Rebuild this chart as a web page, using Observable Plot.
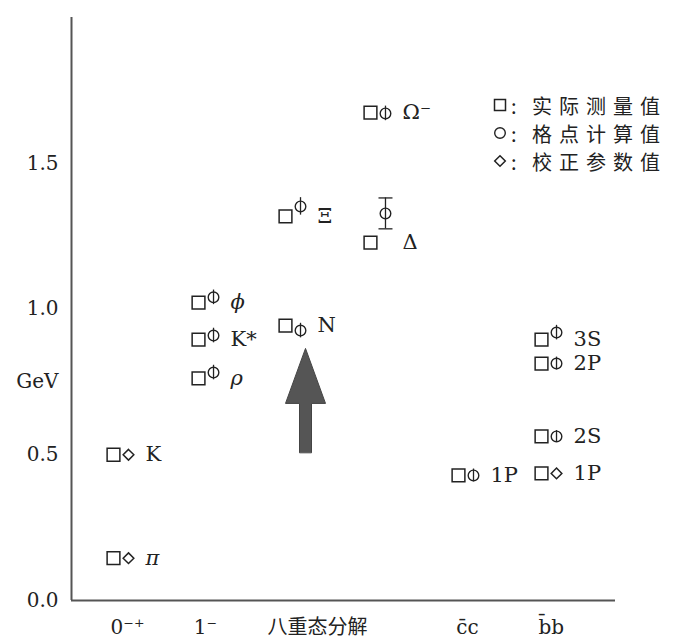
<!DOCTYPE html>
<html>
<head>
<meta charset="utf-8">
<script src="https://cdn.jsdelivr.net/npm/d3@7"></script>
<script src="https://cdn.jsdelivr.net/npm/@observablehq/plot@0.6"></script>
<style>
  html, body { margin: 0; padding: 0; background: #fff; }
  #wrap { position: relative; width: 675px; height: 638px; }
  #legend { position: absolute; left: 492px; top: 91px; font-family: "Noto Sans CJK SC", sans-serif;
            font-size: 20px; color: #222; }
  #legend .row { height: 28px; display: flex; align-items: center; }
  #legend svg { width: 16px; height: 16px; margin-right: 3px; }
  #legend .colon { width: 21px; }
  #legend .txt { letter-spacing: 7px; }
</style>
</head>
<body>
<div id="wrap"><div id="legend"></div></div>
<script>
// Hadron masses and splittings (GeV): measured values vs lattice QCD
const groups = ["0⁻⁺", "1⁻", "八重态分解", "c̄c", "b̄b"];
const names    = ["π", "K", "ρ", "K*", "ϕ", "N", "Ξ", "Δ", "Ω⁻", "1P", "3S", "2P", "2S", "1P"];
const group    = ["0⁻⁺", "0⁻⁺", "1⁻", "1⁻", "1⁻", "八重态分解", "八重态分解", "八重态分解", "八重态分解", "c̄c", "b̄b", "b̄b", "b̄b", "b̄b"];
const column   = [0, 0, 1, 1, 1, 2, 2, 3, 3, 4, 5, 5, 5, 5];
const measured = [0.145, 0.500, 0.762, 0.895, 1.022, 0.943, 1.318, 1.228, 1.674, 0.429, 0.895, 0.813, 0.563, 0.436];
// second value: "calibrated" = input parameter, "lattice" = computed
const kind     = ["calibrated", "calibrated", "lattice", "lattice", "lattice", "lattice", "lattice", "lattice", "lattice", "lattice", "lattice", "lattice", "lattice", "calibrated"];
const computed = [0.145, 0.500, 0.782, 0.909, 1.040, 0.926, 1.352, 1.328, 1.671, 0.429, 0.919, 0.813, 0.563, 0.436];
const errors   = [0, 0, 0.025, 0.025, 0.025, 0.025, 0.03, 0.053, 0.025, 0.022, 0.025, 0.022, 0.02, 0];
const yTicks   = [0, 0.5, 1.0, 1.5];
const unitLabel = "GeV";
const legendItems = [
  {symbol: "square", text: "实际测量值"},
  {symbol: "circle", text: "格点计算值"},
  {symbol: "diamond", text: "校正参数值"}
];

// horizontal layout of the columns and the group labels
const columnX = [0.772, 2.335, 3.934, 5.496, 7.114, 8.640];
const groupX = {"0⁻⁺": 1.03, "1⁻": 2.46, "八重态分解": 4.52, "c̄c": 7.28, "b̄b": 8.82};
const italic = new Set(["π", "ρ", "ϕ"]);

const rows = names.map((name, i) => ({
  name, group: group[i], x: columnX[column[i]], measured: measured[i],
  kind: kind[i], value: computed[i], err: errors[i]
}));
const lat = rows.filter(d => d.kind === "lattice");
const cal = rows.filter(d => d.kind === "calibrated");
const capped = lat.filter(d => d.err > 0.04);

const ink = "#222";
const dxSym = 15;

// thick block arrow pointing up at the nucleon
const blockArrow = {
  draw(context, l) {
    const head = 55, half = 20, shaft = 6;
    context.moveTo(-shaft, 0);
    context.lineTo(-shaft, -(l - head));
    context.lineTo(-half, -(l - head));
    context.lineTo(0, -l);
    context.lineTo(half, -(l - head));
    context.lineTo(shaft, -(l - head));
    context.lineTo(shaft, 0);
    context.closePath();
  }
};
const capSymbol = { draw(context) { context.moveTo(-7, 0); context.lineTo(7, 0); } };
const nucleon = rows.find(d => d.name === "N");
const arrowBase = 0.508;

const chart = Plot.plot({
  width: 675,
  height: 638,
  marginLeft: 71,
  marginRight: 60,
  marginTop: 17,
  marginBottom: 38,
  style: {fontFamily: "'DejaVu Serif', 'Noto Sans CJK SC', serif", color: ink, background: "#fff", overflow: "visible"},
  x: {domain: [0, 10], axis: null},
  y: {domain: [0, 2], axis: null},
  marks: [
    Plot.ruleX([0], {stroke: "#555", strokeWidth: 2}),
    Plot.ruleY([0], {stroke: "#555", strokeWidth: 2}),
    Plot.axisY([...yTicks, 0.75], {
      label: null, tickSize: 0, tickPadding: 13, fontSize: 20,
      tickFormat: d => d === 0.75 ? unitLabel : d3.format(".1f")(d)
    }),
    Plot.axisX(groups.map(g => groupX[g]), {
      label: null, tickSize: 0, tickPadding: 19, fontSize: 20,
      tickFormat: x => groups.find(g => groupX[g] === x)
    }),
    Plot.vector([nucleon], {
      x: "x", y: () => arrowBase, dx: 20, length: 104, anchor: "start",
      shape: blockArrow, fill: "#555", stroke: "#444", strokeWidth: 1
    }),
    // measured values
    Plot.dot(rows, {x: "x", y: "measured", symbol: "square", r: 7.2, fill: "#fff", stroke: ink, strokeWidth: 1.5}),
    // calibration inputs
    Plot.dot(cal, {x: "x", y: "value", dx: dxSym, symbol: "diamond2", r: 4.8, fill: "#fff", stroke: ink, strokeWidth: 1.5}),
    // lattice results with error bars
    Plot.dot(lat, {x: "x", y: "value", dx: dxSym, symbol: "circle", r: 5.3, fill: "#fff", stroke: ink, strokeWidth: 1.4}),
    Plot.ruleX(lat, {x: "x", y1: d => d.value - d.err, y2: d => d.value + d.err, dx: dxSym, stroke: ink, strokeWidth: 1.3}),
    Plot.dot(capped, {x: "x", y: d => d.value + d.err, dx: dxSym, symbol: capSymbol, stroke: ink, strokeWidth: 1.3, r: 3}),
    Plot.dot(capped, {x: "x", y: d => d.value - d.err, dx: dxSym, symbol: capSymbol, stroke: ink, strokeWidth: 1.3, r: 3}),
    // particle labels
    Plot.text(rows.filter(d => !italic.has(d.name)), {x: "x", y: "measured", text: "name", dx: 32, textAnchor: "start", fontSize: 21, fill: ink}),
    Plot.text(rows.filter(d => italic.has(d.name)), {x: "x", y: "measured", text: "name", dx: 32, textAnchor: "start", fontSize: 21, fontStyle: "italic", fill: ink})
  ]
});
document.getElementById("wrap").prepend(chart);

// legend
const icon = {
  square: '<rect x="2.5" y="2.5" width="11" height="11" fill="#fff" stroke="#222" stroke-width="1.5"/>',
  circle: '<circle cx="8" cy="8" r="5.3" fill="#fff" stroke="#222" stroke-width="1.4"/>',
  diamond: '<path d="M8 2.7L13.3 8L8 13.3L2.7 8Z" fill="#fff" stroke="#222" stroke-width="1.5"/>'
};
const legend = d3.select("#legend");
for (const item of legendItems) {
  const row = legend.append("div").attr("class", "row");
  row.append("svg").attr("viewBox", "0 0 16 16").html(icon[item.symbol]);
  row.append("span").attr("class", "colon").text(":");
  row.append("span").attr("class", "txt").text(item.text);
}
</script>
</body>
</html>
